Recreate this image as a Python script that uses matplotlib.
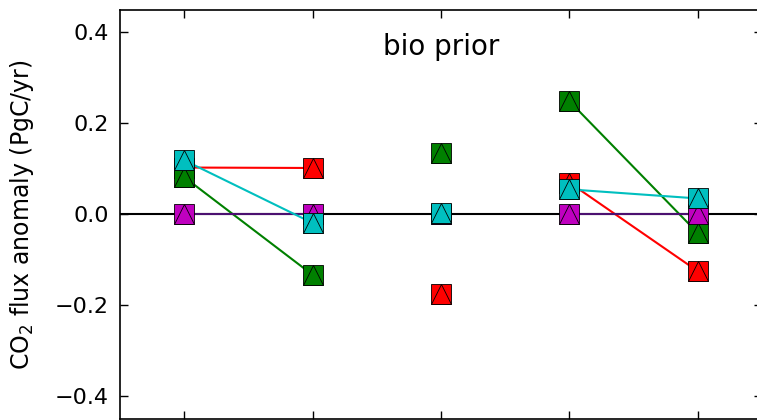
import numpy as np
import matplotlib.pyplot as plt

# Flux anomalies per case (PgC/yr); cases 1-2 and 4-5 are paired, 3 stands alone
xpos = [1, 2, 3, 4, 5]
red = [0.103, 0.102, -0.176, 0.070, -0.125]
green = [0.082, -0.133, 0.136, 0.249, -0.041]
magenta = [0.0, 0.0, 0.0, 0.0, 0.0]
cyan = [0.119, -0.019, 0.004, 0.055, 0.035]

series = [
    (red, 'r', 'r'),
    (green, 'g', 'g'),
    (magenta, 'm', '#4b1070'),
    (cyan, 'c', 'c'),
]

fig = plt.figure(figsize=(7.57, 4.2), dpi=100)
ax = fig.add_axes([0.1585, 0.0024, 0.848, 0.9744])

ax.axhline(0, color='k', lw=1.5, zorder=1)

for vals, col, lcol in series:
    for seg in ([0, 1], [3, 4]):
        ax.plot([xpos[i] for i in seg], [vals[i] for i in seg], '-', color=lcol, lw=1.5, zorder=2)

for k, (vals, col, lcol) in enumerate(series):
    z = 3 + k
    ax.plot(xpos, vals, 's', color=col, ms=14, mec='k', mew=0.6, ls='none', zorder=z)
    ax.plot(xpos, vals, '^', color=col, ms=14, mec='k', mew=0.6, ls='none', zorder=z)

ax.set_xlim(0.5, 5.5)
ax.set_ylim(-0.45, 0.45)
ax.set_xticks(xpos)
ax.set_xticklabels([])
ax.set_yticks([-0.4, -0.2, 0.0, 0.2, 0.4])
ax.tick_params(direction='in', top=True, right=True, length=6, width=1, labelsize=16, pad=8)
for sp in ax.spines.values():
    sp.set_linewidth(1.2)
ax.set_ylabel('CO$_2$ flux anomaly (PgC/yr)', fontsize=17)
ax.yaxis.set_label_coords(-0.131, 0.5)
ax.text(0.5, 0.889, 'bio prior', transform=ax.transAxes, ha='center', va='baseline', fontsize=20)

fig.savefig('out.png', dpi=100)
